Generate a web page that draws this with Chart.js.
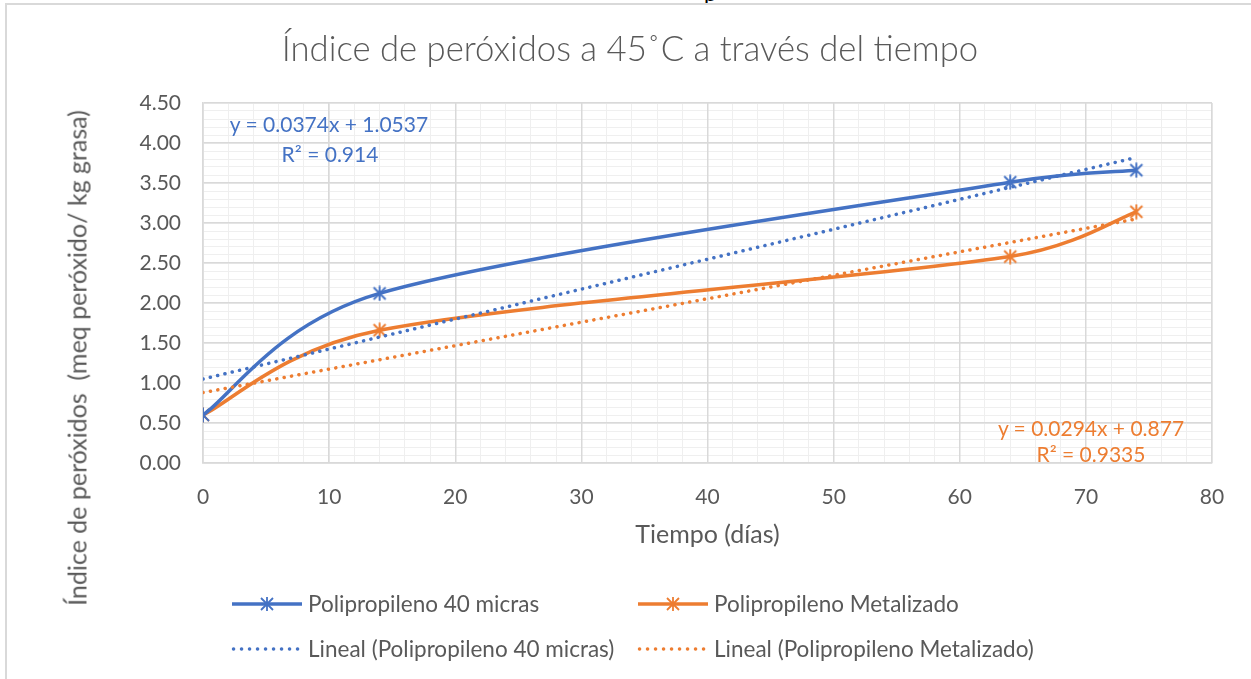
<!DOCTYPE html>
<html><head><meta charset="utf-8">
<script src="https://cdn.jsdelivr.net/npm/chart.js@4.4.1/dist/chart.umd.min.js"></script>
<style>
html,body{margin:0;padding:0;background:#fff;overflow:hidden}
#wrap{position:relative;width:1251px;height:679px;overflow:hidden;font-family:Lato,sans-serif;color:#595959}
#frame{position:absolute;left:5px;top:3px;width:1400px;height:900px;border-left:2px solid #d9d9d9;border-top:2px solid #d9d9d9;box-sizing:border-box}
canvas{position:absolute;left:0;top:0}
.t{position:absolute;white-space:pre;line-height:1}
.c{transform:translate(-50%,-50%)}
.l{transform:translateY(-50%)}
svg{position:absolute;overflow:visible}
</style></head>
<body>
<div id="wrap">
  <div class="t" style="left:704px;top:-18px;font-size:22px;color:#000;line-height:22px">p</div>
  <div id="frame"></div>
  <canvas id="c" width="1251" height="679"></canvas>
  <div id="overlay"></div>
</div>
<script>
// ---- data ----
const dias = [0, 14, 64, 74];
const pp40 = [0.60, 2.12, 3.51, 3.66];
const ppMet = [0.60, 1.66, 2.58, 3.14];
const trendX = [0, 74];
const trendPP40 = [1.05, 3.82];
const trendPPMet = [0.88, 3.05];
const seriesNames = ['Polipropileno 40 micras', 'Polipropileno Metalizado',
  'Lineal (Polipropileno 40 micras)', 'Lineal (Polipropileno Metalizado)'];
const eqPP40 = ['y = 0.0374x + 1.0537', 'R² = 0.914'];
const eqPPMet = ['y = 0.0294x + 0.877', 'R² = 0.9335'];
const chartTitle = 'Índice de peróxidos a 45˚C a través del tiempo';
const xTitle = 'Tiempo (días)';
const yTitle = 'Índice de peróxidos  (meq peróxido/ kg grasa)';

const BLUE = '#4472C4', ORANGE = '#ED7D31', TXT = '#595959';
const FONT = 'Lato, sans-serif';

function asterisk(color) {
  const c = document.createElement('canvas');
  c.width = 16; c.height = 16;
  const g = c.getContext('2d');
  g.strokeStyle = color; g.lineWidth = 1.9;
  g.beginPath();
  g.moveTo(2, 2); g.lineTo(14, 14);
  g.moveTo(2, 14); g.lineTo(14, 2);
  g.moveTo(8, 0.5); g.lineTo(8, 15.5);
  g.stroke();
  return c;
}

const pts = (xs, ys) => xs.map((x, i) => ({x, y: ys[i]}));

// Excel-style smoothing: Catmull-Rom tangents (1/6), arm capped at half the segment,
// computed on the pixel positions produced by the library's scales
const excelSmooth = {
  id: 'excelSmooth',
  beforeDatasetDraw(chart, args) {
    const ds = chart.data.datasets[args.index];
    if (!ds.excelSmooth) return;
    const meta = args.meta;
    const p = meta.data;
    const n = p.length;
    for (let i = 0; i < n - 1; i++) {
      const a = p[i], b = p[i + 1];
      const prev = p[i - 1] || a, next2 = p[i + 2] || b;
      const d = Math.hypot(b.x - a.x, b.y - a.y);
      let vx = b.x - prev.x, vy = b.y - prev.y, L = Math.hypot(vx, vy) || 1;
      let arm = Math.min(L / 6, d / 2);
      a.cp2x = a.x + vx / L * arm; a.cp2y = a.y + vy / L * arm;
      vx = next2.x - a.x; vy = next2.y - a.y; L = Math.hypot(vx, vy) || 1;
      arm = Math.min(L / 6, d / 2);
      b.cp1x = b.x - vx / L * arm; b.cp1y = b.y - vy / L * arm;
    }
    p[0].cp1x = p[0].x; p[0].cp1y = p[0].y;
    p[n - 1].cp2x = p[n - 1].x; p[n - 1].cp2y = p[n - 1].y;
    meta.dataset._pointsUpdated = true;
  }
};

new Chart(document.getElementById('c'), {
  type: 'line',
  data: {
    datasets: [
      {label: seriesNames[0], data: pts(dias, pp40), borderColor: BLUE, backgroundColor: BLUE,
       borderWidth: 3.5, pointStyle: asterisk(BLUE), pointRadius: 8, tension: 0.4, excelSmooth: true, order: 3},
      {label: seriesNames[1], data: pts(dias, ppMet), borderColor: ORANGE, backgroundColor: ORANGE,
       borderWidth: 3.5, pointStyle: asterisk(ORANGE), pointRadius: 8, tension: 0.4, excelSmooth: true, order: 4},
      {label: seriesNames[2], data: pts(trendX, trendPP40), borderColor: BLUE, borderWidth: 3.5,
       borderDash: [0.1, 7.4], borderCapStyle: 'round', pointRadius: 0, tension: 0, order: 1},
      {label: seriesNames[3], data: pts(trendX, trendPPMet), borderColor: ORANGE, borderWidth: 3.5,
       borderDash: [0.1, 7.4], borderCapStyle: 'round', pointRadius: 0, tension: 0, order: 2}
    ]
  },
  options: {
    responsive: false, animation: false, devicePixelRatio: 1,
    layout: {padding: {top: 103, right: 39, bottom: 0, left: 0}},
    plugins: {legend: {display: false}, title: {display: false}, tooltip: {enabled: false}},
    events: [],
    scales: {
      xMinor: {type: 'linear', axis: 'x', position: 'bottom', min: 0, max: 80,
        ticks: {display: false, stepSize: 2}, border: {display: false},
        grid: {color: '#efefef', lineWidth: 1, drawTicks: false, z: -2},
        afterFit: s => { s.height = 0; }},
      yMinor: {type: 'linear', axis: 'y', position: 'left', min: 0, max: 4.5,
        ticks: {display: false, stepSize: 0.1}, border: {display: false},
        grid: {color: '#efefef', lineWidth: 1, drawTicks: false, z: -2},
        afterFit: s => { s.width = 0; }},
      x: {type: 'linear', position: 'bottom', min: 0, max: 80,
        ticks: {stepSize: 10, color: TXT, font: {family: FONT, size: 21}, padding: 22, maxRotation: 0},
        grid: {color: '#d9d9d9', lineWidth: 1.5, drawTicks: false},
        border: {color: '#d9d9d9', width: 1.5},
        title: {display: true, text: xTitle, color: TXT, font: {family: FONT, size: 25}, padding: {top: 0, bottom: 129}},
        afterFit: s => { s.height = 216; }},
      y: {type: 'linear', position: 'left', min: 0, max: 4.5,
        ticks: {stepSize: 0.5, color: TXT, font: {family: FONT, size: 21}, padding: 22,
          callback: v => Number(v).toFixed(2)},
        grid: {color: '#d9d9d9', lineWidth: 1.5, drawTicks: false},
        border: {color: '#d9d9d9', width: 1.5},
        afterFit: s => { s.width = 203; }}
    }
  },
  plugins: [excelSmooth]
});

// ---- text overlay (titles, equations, legend) ----
const ov = document.getElementById('overlay');
function txt(s, x, y, size, color, cls, extra, weight) {
  const d = document.createElement('div');
  d.className = 't ' + cls;
  d.textContent = s;
  d.style.left = x + 'px'; d.style.top = y + 'px';
  d.style.fontSize = size + 'px'; d.style.color = color;
  if (weight) d.style.fontWeight = weight;
  if (extra) d.style.transform = extra;
  ov.appendChild(d);
  return d;
}
txt(chartTitle, 630, 48, 34.7, TXT, 'c', null, 300);
txt(yTitle, 77, 358, 25, TXT, '', 'translate(-50%,-50%) rotate(-90deg)');
txt(eqPP40[0], 329, 123, 21, BLUE, 'c');
txt(eqPP40[1], 330, 153, 21, BLUE, 'c');
txt(eqPPMet[0], 1091, 427, 21, ORANGE, 'c');
txt(eqPPMet[1], 1091, 453, 21, ORANGE, 'c');

const NS = 'http://www.w3.org/2000/svg';
function sample(x, y, color, dotted, marker) {
  const s = document.createElementNS(NS, 'svg');
  s.setAttribute('width', 70); s.setAttribute('height', 20);
  s.style.left = x + 'px'; s.style.top = (y - 10) + 'px';
  const ln = document.createElementNS(NS, 'line');
  ln.setAttribute('x1', dotted ? 1.5 : 0); ln.setAttribute('x2', 70);
  ln.setAttribute('y1', 10); ln.setAttribute('y2', 10);
  ln.setAttribute('stroke', color); ln.setAttribute('stroke-width', 3.5);
  if (dotted) { ln.setAttribute('stroke-dasharray', '0.1 7.9'); ln.setAttribute('stroke-linecap', 'round'); }
  s.appendChild(ln);
  if (marker) {
    const p = document.createElementNS(NS, 'path');
    p.setAttribute('d', 'M29 4 L41 16 M29 16 L41 4 M35 3 L35 17');
    p.setAttribute('stroke', color); p.setAttribute('stroke-width', 1.8); p.setAttribute('fill', 'none');
    s.appendChild(p);
  }
  ov.appendChild(s);
}
sample(232, 604, BLUE, false, true);
sample(638, 604, ORANGE, false, true);
sample(232, 649, BLUE, true, false);
sample(638, 649, ORANGE, true, false);
txt(seriesNames[0], 308, 604, 22.5, TXT, 'l');
txt(seriesNames[1], 714, 604, 22.5, TXT, 'l');
txt(seriesNames[2], 308, 649, 22.5, TXT, 'l');
txt(seriesNames[3], 714, 649, 22.5, TXT, 'l');
</script>
</body></html>
